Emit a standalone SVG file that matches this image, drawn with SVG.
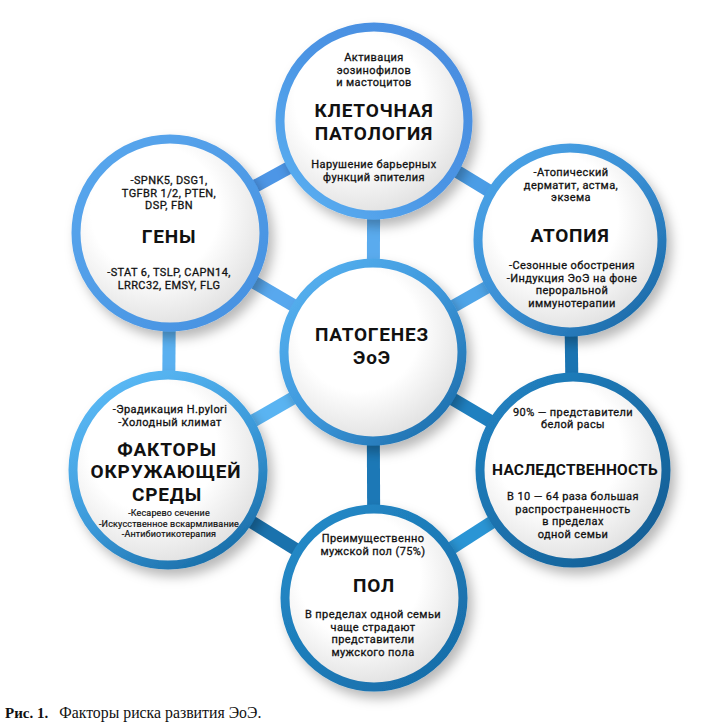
<svg xmlns="http://www.w3.org/2000/svg" width="724" height="728" viewBox="0 0 724 728">
<defs>
<radialGradient id="fill" cx="0.42" cy="0.38" r="0.62">
<stop offset="0.55" stop-color="#ffffff"/>
<stop offset="1" stop-color="#e2e2e2"/>
</radialGradient>
<linearGradient id="gTop" x1="0" y1="1" x2="1" y2="0"><stop offset="0" stop-color="#5cb2f2"/><stop offset="0.5" stop-color="#4b94e4"/><stop offset="1" stop-color="#4a8de0"/></linearGradient>
<linearGradient id="gLT" x1="0" y1="0" x2="1" y2="1"><stop offset="0" stop-color="#5aa8ee"/><stop offset="1" stop-color="#4690e0"/></linearGradient>
<linearGradient id="gRT" x1="0" y1="0" x2="1" y2="1"><stop offset="0" stop-color="#4da6ea"/><stop offset="0.5" stop-color="#3a8fd4"/><stop offset="1" stop-color="#1564a0"/></linearGradient>
<linearGradient id="gC" x1="0" y1="0" x2="1" y2="1"><stop offset="0" stop-color="#5ab4f2"/><stop offset="0.5" stop-color="#3e98dc"/><stop offset="1" stop-color="#1868a4"/></linearGradient>
<linearGradient id="gLB" x1="0.2" y1="0" x2="0.8" y2="1"><stop offset="0" stop-color="#5cbaf6"/><stop offset="0.55" stop-color="#3a98d8"/><stop offset="1" stop-color="#186ca6"/></linearGradient>
<linearGradient id="gRB" x1="0" y1="0" x2="1" y2="1"><stop offset="0" stop-color="#2284c4"/><stop offset="1" stop-color="#145c92"/></linearGradient>
<linearGradient id="gB" x1="0" y1="0" x2="1" y2="1"><stop offset="0" stop-color="#248cca"/><stop offset="1" stop-color="#176aa6"/></linearGradient>
<filter id="sh" x="-30%" y="-30%" width="160%" height="160%">
<feDropShadow dx="5" dy="7" stdDeviation="6" flood-color="#000" flood-opacity="0.28"/>
</filter>
</defs>
<style>
.ring{fill:url(#fill);stroke-width:9;filter:url(#sh)}
.bar{stroke-width:13;fill:none}
text{font-family:Roboto,"DejaVu Sans",sans-serif;text-anchor:middle;fill:#111}
.s{font-size:11px;letter-spacing:0.4px;stroke:#111;stroke-width:0.3px}
.xs{font-size:9px;letter-spacing:0.15px;stroke:#111;stroke-width:0.2px}
.h{font-size:19px;font-weight:bold;letter-spacing:0.8px}
.cap{font-family:"Liberation Serif",serif;text-anchor:start;font-size:15px;letter-spacing:0}
</style>
<rect width="724" height="728" fill="#ffffff"/>
<g id="connectors">
<line class="bar" x1="374" y1="121" x2="373" y2="352" stroke="#5aabee"/>
<line class="bar" x1="374" y1="121" x2="170" y2="233" stroke="#4d96e6"/>
<line class="bar" x1="374" y1="121" x2="570" y2="240" stroke="#4a9de6"/>
<line class="bar" x1="170" y1="233" x2="373" y2="352" stroke="#58a8ee"/>
<line class="bar" x1="570" y1="240" x2="373" y2="352" stroke="#4fa5e8"/>
<line class="bar" x1="170" y1="233" x2="168" y2="470" stroke="#5ab0f0"/>
<line class="bar" x1="570" y1="240" x2="573" y2="470" stroke="#1a74b2"/>
<line class="bar" x1="168" y1="470" x2="373" y2="352" stroke="#5ab4f2"/>
<line class="bar" x1="573" y1="470" x2="373" y2="352" stroke="#1f80c0"/>
<line class="bar" x1="373" y1="352" x2="374" y2="598" stroke="#1c78b6"/>
<line class="bar" x1="168" y1="470" x2="374" y2="598" stroke="#1a72ad"/>
<line class="bar" x1="573" y1="470" x2="374" y2="598" stroke="#2a95d5"/>
</g>
<g id="node-top">
<circle class="ring" cx="374" cy="121" r="94" stroke="url(#gTop)"/>
<text class="s" x="374" y="61">Активация</text>
<text class="s" x="374" y="73.5">эозинофилов</text>
<text class="s" x="374" y="86">и мастоцитов</text>
<text class="h" x="374" y="117">КЛЕТОЧНАЯ</text>
<text class="h" x="374" y="139.5">ПАТОЛОГИЯ</text>
<text class="s" x="374" y="168">Нарушение барьерных</text>
<text class="s" x="374" y="180.5">функций эпителия</text>
</g>
<g id="node-genes">
<circle class="ring" cx="170" cy="233" r="94" stroke="url(#gLT)"/>
<text class="s" x="169" y="184">-SPNK5, DSG1,</text>
<text class="s" x="169" y="196.5">TGFBR 1/2, PTEN,</text>
<text class="s" x="169" y="209">DSP, FBN</text>
<text class="h" x="169" y="243">ГЕНЫ</text>
<text class="s" x="169" y="276">-STAT 6, TSLP, CAPN14,</text>
<text class="s" x="169" y="288.5">LRRC32, EMSY, FLG</text>
</g>
<g id="node-atopy">
<circle class="ring" cx="570" cy="240" r="92" stroke="url(#gRT)"/>
<text class="s" x="571" y="176">-Атопический</text>
<text class="s" x="571" y="188.5">дерматит, астма,</text>
<text class="s" x="571" y="201">экзема</text>
<text class="h" x="570" y="242">АТОПИЯ</text>
<text class="s" x="572" y="269">-Сезонные обострения</text>
<text class="s" x="572" y="281.5">-Индукция ЭоЭ на фоне</text>
<text class="s" x="572" y="294">пероральной</text>
<text class="s" x="572" y="306.5">иммунотерапии</text>
</g>
<g id="node-center">
<circle class="ring" cx="373" cy="352" r="89" stroke="url(#gC)"/>
<text class="h" x="372" y="341">ПАТОГЕНЕЗ</text>
<text class="h" x="372" y="363.5">ЭоЭ</text>
</g>
<g id="node-env">
<circle class="ring" cx="168" cy="470" r="95" stroke="url(#gLB)"/>
<text class="s" x="170" y="413">-Эрадикация H.pylori</text>
<text class="s" x="170" y="425.5">-Холодный климат</text>
<text class="h" x="167" y="455.5">ФАКТОРЫ</text>
<text class="h" x="166" y="478">ОКРУЖАЮЩЕЙ</text>
<text class="h" x="167" y="500.5">СРЕДЫ</text>
<text class="xs" x="169" y="516">-Кесарево сечение</text>
<text class="xs" x="169" y="526.6">-Искусственное вскармливание</text>
<text class="xs" x="169" y="537.2">-Антибиотикотерапия</text>
</g>
<g id="node-heredity">
<circle class="ring" cx="573" cy="470" r="93" stroke="url(#gRB)"/>
<text class="s" x="573" y="415.5">90% — представители</text>
<text class="s" x="573" y="428">белой расы</text>
<text class="h" x="575" y="475" style="font-size:15.5px;letter-spacing:0.2px">НАСЛЕДСТВЕННОСТЬ</text>
<text class="s" x="573" y="500">В 10 — 64 раза большая</text>
<text class="s" x="573" y="512.5">распространенность</text>
<text class="s" x="573" y="525">в пределах</text>
<text class="s" x="573" y="537.5">одной семьи</text>
</g>
<g id="node-sex">
<circle class="ring" cx="374" cy="598" r="89" stroke="url(#gB)"/>
<text class="s" x="373" y="542">Преимущественно</text>
<text class="s" x="373" y="554.5">мужской пол (75%)</text>
<text class="h" x="374" y="592">ПОЛ</text>
<text class="s" x="373" y="618">В пределах одной семьи</text>
<text class="s" x="373" y="630.5">чаще страдают</text>
<text class="s" x="373" y="643">представители</text>
<text class="s" x="373" y="655.5">мужского пола</text>
</g>
<g id="caption">
<text class="cap" x="5" y="718"><tspan font-weight="bold">Рис. 1.</tspan><tspan dx="11" style="font-size:15.8px">Факторы риска развития ЭоЭ.</tspan></text>
</g>
</svg>
